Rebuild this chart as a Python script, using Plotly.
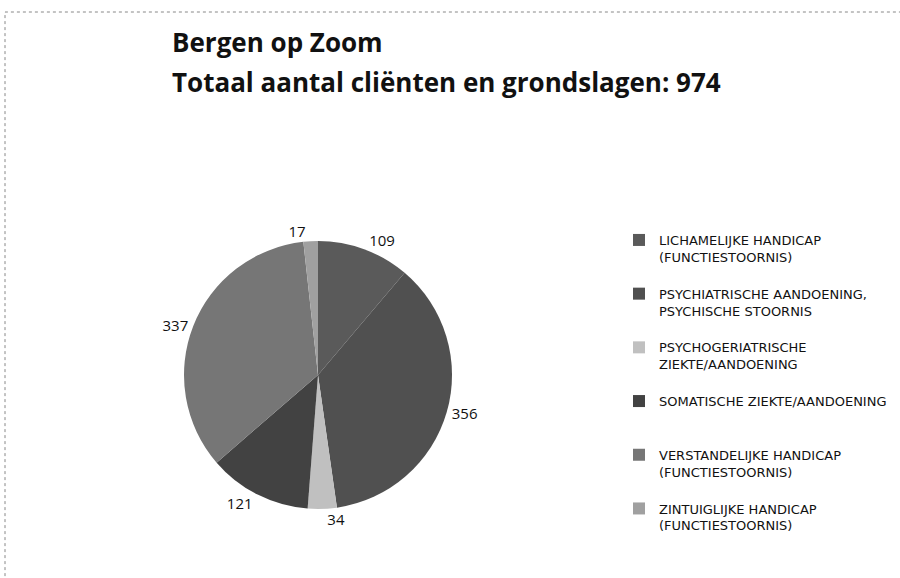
import plotly.graph_objects as go

categories = [
    "LICHAMELIJKE HANDICAP<br>(FUNCTIESTOORNIS)",
    "PSYCHIATRISCHE AANDOENING,<br>PSYCHISCHE STOORNIS",
    "PSYCHOGERIATRISCHE<br>ZIEKTE/AANDOENING",
    "SOMATISCHE ZIEKTE/AANDOENING",
    "VERSTANDELIJKE HANDICAP<br>(FUNCTIESTOORNIS)",
    "ZINTUIGLIJKE HANDICAP<br>(FUNCTIESTOORNIS)",
]
values = [109, 356, 34, 121, 337, 17]
colors = ["#5a5a5a", "#505050", "#c0c0c0", "#424242", "#767676", "#a0a0a0"]

W, H = 900, 578

# pad every legend entry to three lines so entries are evenly spaced like the original
legend_labels = []
for c in categories:
    lines = c.split("<br>")
    lines += [" "] * (3 - len(lines))
    legend_labels.append("<br>".join(lines))

fig = go.Figure(go.Pie(
    labels=legend_labels,
    values=values,
    sort=False,
    direction="clockwise",
    rotation=0,
    marker=dict(colors=colors, line=dict(width=0)),
    textinfo="value",
    textposition="outside",
    textfont=dict(family="Open Sans", size=15, color="#111"),
    domain=dict(x=[184 / W, 452 / W], y=[1 - 509 / H, 1 - 241 / H]),
    showlegend=True,
))

fig.update_layout(
    width=W, height=H,
    margin=dict(l=0, r=0, t=0, b=0),
    paper_bgcolor="white",
    plot_bgcolor="white",
    font=dict(family="Open Sans", color="#111"),
    legend=dict(
        x=619 / W, xanchor="left",
        y=1 - 225 / H, yanchor="top",
        font=dict(family="DejaVu Sans", size=13, color="#111"),
        valign="top",
        itemwidth=30,
        bgcolor="rgba(0,0,0,0)",
    ),
    annotations=[
        dict(text="<b>Bergen op Zoom</b>", xref="paper", yref="paper",
             x=170 / W, y=1 - 42 / H, xanchor="left", yanchor="middle",
             showarrow=False, font=dict(family="Open Sans", size=26, color="#111")),
        dict(text="<b>Totaal aantal cliënten en grondslagen: 974</b>", xref="paper", yref="paper",
             x=170 / W, y=1 - 82 / H, xanchor="left", yanchor="middle",
             showarrow=False, font=dict(family="Open Sans", size=26, color="#111")),
    ],
    shapes=[
        dict(type="rect", xref="paper", yref="paper",
             x0=5 / W, x1=1.05, y0=-0.05, y1=1 - 12 / H,
             line=dict(color="#888", width=1, dash="dot"), fillcolor="rgba(0,0,0,0)"),
    ],
)

fig.write_html(
    "out.html", config={"displayModeBar": False},
    post_script="document.body.style.margin='0';",
)
